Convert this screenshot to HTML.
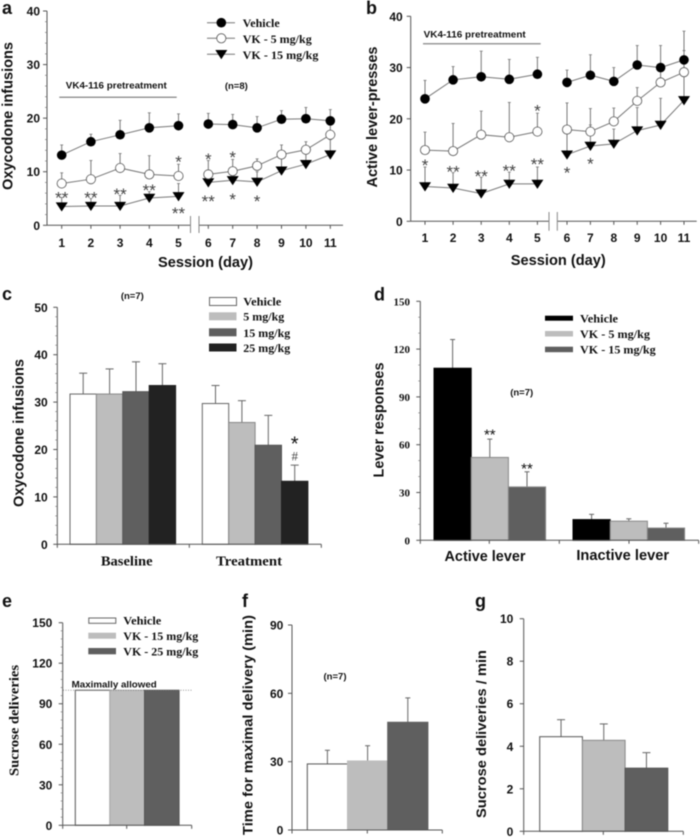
<!DOCTYPE html>
<html lang="en">
<head>
<meta charset="utf-8">
<title>VK4-116 oxycodone self-administration figure</title>
<style>
html,body{margin:0;padding:0;background:#fff;}
#figure{display:block;width:700px;height:837px;filter:blur(0.4px);}
text{fill:#111;}
.sans{font-family:"Liberation Sans",Arial,sans-serif;font-weight:bold;}
.serif{font-family:"Liberation Serif","Times New Roman",serif;font-weight:bold;}
.ser{fill:#111;font-size:12px;}
.note{font-size:9.5px;}
.panel{font-size:18px;}
</style>
</head>
<body>
<svg id="figure" xmlns="http://www.w3.org/2000/svg" width="700" height="837" viewBox="0 0 700 837">
  <rect x="0" y="0" width="700" height="837" fill="#fff"/>

  <!-- Panel letters -->
  <text class="sans panel" x="2" y="14">a</text>
  <text class="sans panel" x="366" y="14">b</text>
  <text class="sans panel" x="2" y="300">c</text>
  <text class="sans panel" x="374" y="300.5">d</text>
  <text class="sans panel" x="2" y="607">e</text>
  <text class="sans panel" x="242" y="607">f</text>
  <text class="sans panel" x="475" y="607">g</text>

  <!-- Axis titles -->
  <text class="sans" font-size="15" text-anchor="middle" textLength="148" lengthAdjust="spacingAndGlyphs" transform="translate(12.5,116) rotate(-90)">Oxycodone infusions</text>
  <text class="sans" font-size="15" text-anchor="middle" textLength="95" lengthAdjust="spacingAndGlyphs" x="205.5" y="267">Session (day)</text>
  <text class="sans" font-size="15" text-anchor="middle" textLength="141" lengthAdjust="spacingAndGlyphs" transform="translate(377,117) rotate(-90)">Active lever-presses</text>
  <text class="sans" font-size="15" text-anchor="middle" textLength="95" lengthAdjust="spacingAndGlyphs" x="558.3" y="265">Session (day)</text>
  <text class="sans" font-size="15" text-anchor="middle" textLength="148" lengthAdjust="spacingAndGlyphs" transform="translate(23.5,433) rotate(-90)">Oxycodone infusions</text>
  <text class="sans" font-size="15" text-anchor="middle" textLength="115" lengthAdjust="spacingAndGlyphs" transform="translate(383.3,420) rotate(-90)">Lever responses</text>
  <text class="serif" font-size="14" text-anchor="middle" textLength="111" lengthAdjust="spacingAndGlyphs" transform="translate(18.5,720.5) rotate(-90)">Sucrose deliveries</text>
  <text class="sans" font-size="14" text-anchor="middle" textLength="220" lengthAdjust="spacingAndGlyphs" transform="translate(252.5,725) rotate(-90)">Time for maximal delivery (min)</text>
  <text class="sans" font-size="14" text-anchor="middle" textLength="168" lengthAdjust="spacingAndGlyphs" transform="translate(486,734) rotate(-90)">Sucrose deliveries / min</text>

  <!-- Notes -->
  <line x1="59.3" y1="97.3" x2="176.7" y2="97.3" stroke="#666" stroke-width="1"/>
  <text class="sans" font-size="9.5" text-anchor="middle" textLength="101" lengthAdjust="spacingAndGlyphs" x="116.3" y="88.3">VK4-116 pretreatment</text>
  <text class="sans note" text-anchor="middle" x="236.3" y="89">(n=8)</text>
  <line x1="423" y1="43.7" x2="540.7" y2="43.7" stroke="#999" stroke-width="1.5"/>
  <text class="sans" font-size="9.5" text-anchor="middle" textLength="102" lengthAdjust="spacingAndGlyphs" x="474.7" y="37.7">VK4-116 pretreatment</text>
  <text class="sans note" text-anchor="middle" x="132.3" y="299">(n=7)</text>
  <text class="sans note" text-anchor="middle" x="521.7" y="395.7">(n=7)</text>
  <text class="sans" font-size="9" textLength="85" lengthAdjust="spacingAndGlyphs" x="71.7" y="687.3">Maximally allowed</text>
  <text class="sans note" text-anchor="middle" x="335" y="679.3">(n=7)</text>

  <!-- Legend a -->
  <g>
    <line x1="207" y1="22.7" x2="235" y2="22.7" stroke="#777"/>
    <circle cx="221.3" cy="22.7" r="4.8" fill="#000"/>
    <text class="serif" font-size="12" x="242.7" y="27" textLength="37" lengthAdjust="spacingAndGlyphs">Vehicle</text>
    <line x1="207" y1="38.3" x2="235" y2="38.3" stroke="#777"/>
    <circle cx="221.3" cy="38.3" r="4.6" fill="#fff" stroke="#555" stroke-width="0.8"/>
    <text class="serif" font-size="12" x="242.7" y="43" textLength="69" lengthAdjust="spacingAndGlyphs">VK - 5 mg/kg</text>
    <line x1="207" y1="54.3" x2="235" y2="54.3" stroke="#777"/>
    <polygon points="215.3,50 227.3,50 221.3,59.3" fill="#000"/>
    <text class="serif" font-size="12" x="242.7" y="59" textLength="75.7" lengthAdjust="spacingAndGlyphs">VK - 15 mg/kg</text>
  </g>

  <!-- Legend c -->
  <g>
    <rect x="209.5" y="297.5" width="27" height="8" fill="#fff" stroke="#666"/>
    <text class="serif" font-size="12" x="243.3" y="305.5" textLength="38" lengthAdjust="spacingAndGlyphs">Vehicle</text>
    <rect x="209" y="312.3" width="27.5" height="8" fill="#bdbdbd"/>
    <text class="serif" font-size="12" x="243.3" y="320.5" textLength="41" lengthAdjust="spacingAndGlyphs">5 mg/kg</text>
    <rect x="209" y="328.3" width="27.5" height="8" fill="#5f5f5f"/>
    <text class="serif" font-size="12" x="243.3" y="337" textLength="47" lengthAdjust="spacingAndGlyphs">15 mg/kg</text>
    <rect x="209" y="343.5" width="27.5" height="8" fill="#222"/>
    <text class="serif" font-size="12" x="243.3" y="352" textLength="47" lengthAdjust="spacingAndGlyphs">25 mg/kg</text>
  </g>

  <!-- Legend d -->
  <g>
    <rect x="545" y="315.7" width="28" height="5" fill="#000"/>
    <text class="serif" font-size="12" x="580" y="322.5" textLength="38" lengthAdjust="spacingAndGlyphs">Vehicle</text>
    <rect x="545" y="331" width="28" height="5.5" fill="#bdbdbd"/>
    <text class="serif" font-size="12" x="580" y="338" textLength="70" lengthAdjust="spacingAndGlyphs">VK - 5 mg/kg</text>
    <rect x="545" y="346.7" width="28" height="5.5" fill="#5f5f5f"/>
    <text class="serif" font-size="12" x="580" y="353.5" textLength="75.7" lengthAdjust="spacingAndGlyphs">VK - 15 mg/kg</text>
  </g>

  <!-- Legend e -->
  <g>
    <rect x="88.8" y="618" width="27" height="5.3" fill="#fff" stroke="#666"/>
    <text class="serif" font-size="12" x="123.3" y="624.5" textLength="38" lengthAdjust="spacingAndGlyphs">Vehicle</text>
    <rect x="88.3" y="632.7" width="27.7" height="6" fill="#bdbdbd"/>
    <text class="serif" font-size="12" x="123.3" y="640" textLength="75" lengthAdjust="spacingAndGlyphs">VK - 15 mg/kg</text>
    <rect x="88.3" y="648" width="27.7" height="6.3" fill="#5f5f5f"/>
    <text class="serif" font-size="12" x="123.3" y="655.5" textLength="75" lengthAdjust="spacingAndGlyphs">VK - 25 mg/kg</text>
  </g>

  <g id="plots"></g>
</svg>

<script>
/* ---------- Panel a data ---------- */
const sessions = [1, 2, 3, 4, 5, 6, 7, 8, 9, 10, 11];
const aYTicks = [0, 10, 20, 30, 40];
const aVehicle = [13.1, 15.6, 16.9, 18.2, 18.6, 18.9, 18.8, 18.2, 19.8, 19.9, 19.5];
const aVehicleErr = [1.9, 1.4, 2.7, 2.8, 2.2, 2.0, 1.9, 2.1, 1.6, 2.1, 2.1];
const aVk5 = [7.8, 8.6, 10.7, 9.5, 9.2, 9.5, 10.1, 11.1, 13.2, 14.1, 16.9];
const aVk5Err = [2.0, 3.5, 2.7, 3.5, 2.2, 2.6, 2.2, 1.3, 1.8, 1.5, 2.1];
const aVk15 = [3.5, 3.6, 3.6, 5.1, 5.4, 8.0, 8.4, 8.1, 10.2, 11.4, 13.2];
const aVk15Err = [1.7, 1.4, 2.0, 1.2, 2.4, 2.0, 1.6, 1.9, 2.3, 2.1, 2.8];
const aStarSessions = [1, 2, 3, 4, 5, 5, 6, 7, 6, 7, 8];
const aStarLevels = [5.9, 5.9, 6.6, 7.3, 3.0, 12.6, 13.1, 13.5, 5.3, 5.65, 5.3];
const aStarLabels = ['**', '**', '**', '**', '**', '*', '*', '*', '**', '*', '*'];

/* ---------- Panel b data ---------- */
const bYTicks = [0, 10, 20, 30, 40];
const bVehicle = [23.9, 27.6, 28.2, 27.7, 28.7, 27.1, 28.5, 27.3, 30.5, 30, 31.5];
const bVehicleErr = [3.6, 2.6, 5.0, 3.9, 3.3, 2.4, 4.0, 2.7, 3.8, 4.3, 5.6];
const bVk5 = [13.9, 13.7, 16.9, 16.4, 17.5, 17.9, 17.5, 19.5, 23.5, 27.1, 29.1];
const bVk5Err = [3.5, 5.4, 4.6, 6.8, 3.6, 5.2, 4.5, 2.6, 2.6, 2.9, 4.2];
const bVk15 = [6.8, 6.5, 5.4, 7.3, 7.3, 13, 14.7, 15.1, 17.7, 18.8, 23.6];
const bVk15Err = [3.8, 3.0, 3.2, 2.3, 3.3, 4.8, 4.1, 2.9, 4.5, 5.2, 5.4];
const bStarSessions = [1, 2, 3, 4, 5, 5, 6, 7];
const bStarLevels = [11.7, 10.5, 9.6, 10.65, 11.96, 22.4, 10.3, 12];
const bStarLabels = ['*', '**', '**', '**', '**', '*', '*', '*'];

/* ---------- Panel c data ---------- */
const cYTicks = [0, 10, 20, 30, 40, 50];
const cGroups = ['Baseline', 'Treatment'];
const cBaseline = [31.7, 31.7, 32.2, 33.5];
const cBaselineErr = [4.4, 5.3, 6.3, 4.6];
const cTreatment = [29.7, 25.7, 20.9, 13.3];
const cTreatmentErr = [3.8, 4.6, 6.3, 3.4];

/* ---------- Panel d data ---------- */
const dYTicks = [0, 30, 60, 90, 120, 150];
const dGroups = ['Active lever', 'Inactive lever'];
const dActive = [108, 52, 33.5];
const dActiveErr = [18, 11.5, 9.5];
const dInactive = [13, 12, 7.7];
const dInactiveErr = [3.3, 1.5, 3];
const dStarLevels = [68.8, 47.3];

/* ---------- Panel e data ---------- */
const eYTicks = [0, 30, 60, 90, 120, 150];
const eDeliveries = [100, 100, 100];
const eMaximum = 100;

/* ---------- Panel f data ---------- */
const fYTicks = [0, 30, 60, 90];
const fTimes = [29, 30.3, 47.3];
const fTimesErr = [6, 6.7, 10.7];

/* ---------- Panel g data ---------- */
const gYTicks = [0, 2, 4, 6, 8, 10];
const gRates = [4.45, 4.28, 2.97];
const gRatesErr = [0.8, 0.77, 0.73];

/* ---------- Helpers ---------- */
const SVG_NS = 'http://www.w3.org/2000/svg';
const plots = document.getElementById('plots');

function make(parent, tag, attrs, content) {
  const el = document.createElementNS(SVG_NS, tag);
  Object.keys(attrs).forEach(function (k) { el.setAttribute(k, attrs[k]); });
  if (content !== undefined) el.textContent = content;
  parent.appendChild(el);
  return el;
}

function linearY(y0, yTop, maxValue) {
  return function (v) { return y0 - (v / maxValue) * (y0 - yTop); };
}

/* Session axis: sessions 1-5 and 6-11 each have their own spacing around the axis break. */
function sessionX(x1, step1, x6, step2) {
  return function (day) { return day <= 5 ? x1 + (day - 1) * step1 : x6 + (day - 6) * step2; };
}

function drawYAxis(g, cfg, ticks) {
  const axis = make(g, 'line', { x1: cfg.x, y1: cfg.y(0), x2: cfg.x, y2: cfg.y(ticks[ticks.length - 1]), stroke: '#555', 'stroke-width': 1 });
  
  
  ticks.forEach(function (t, i) {
    const tick = make(g, 'line', { x1: cfg.x - 4, y1: cfg.y(t), x2: cfg.x, y2: cfg.y(t), stroke: '#555', 'stroke-width': 1 });
    
    
    const label = make(g, 'text', { x: cfg.labelX, y: cfg.y(t) + cfg.labelDy, 'text-anchor': 'end', 'font-size': cfg.labelSize, class: cfg.labelClass }, String(t));
    
    
    if (cfg.minor && i < ticks.length - 1) {
      for (let m = 1; m < cfg.minor; m++) {
        const v = t + (ticks[i + 1] - t) * m / cfg.minor;
        const mt = make(g, 'line', { x1: cfg.x - 2, y1: cfg.y(v), x2: cfg.x, y2: cfg.y(v), stroke: '#777', 'stroke-width': 0.7 });
        
        
      }
    }
  });
}

function drawXBase(g, y, segments, tickXs) {
  segments.forEach(function (s) {
    const line = make(g, 'line', { x1: s[0], y1: y, x2: s[1], y2: y, stroke: '#555', 'stroke-width': 1 });
    
    
  });
  tickXs.forEach(function (x) {
    const tick = make(g, 'line', { x1: x, y1: y, x2: x, y2: y + 3.5, stroke: '#555', 'stroke-width': 1 });
    
    
  });
}

function drawBreak(g, x1, x2, y1, y2) {
  [x1, x2].forEach(function (x) {
    const mark = make(g, 'line', { x1: x, y1: y1, x2: x, y2: y2, stroke: '#888', 'stroke-width': 1 });
    
    
  });
}

function drawSeries(g, X, Y, values, errs, kind, name) {
  /* error bars first, then connecting lines, then markers */
  values.forEach(function (v, i) {
    const bar = make(g, 'line', { x1: X(sessions[i]), y1: Y(v), x2: X(sessions[i]), y2: Y(v + errs[i]), stroke: '#777', 'stroke-width': 1 });
    
    
    const cap = make(g, 'line', { x1: X(sessions[i]) - 1.5, y1: Y(v + errs[i]), x2: X(sessions[i]) + 1.5, y2: Y(v + errs[i]), stroke: '#777', 'stroke-width': 0.8 });
    
    
  });
  [[0, 5], [5, 11]].forEach(function (range) {
    const pts = [];
    for (let i = range[0]; i < range[1]; i++) pts.push(X(sessions[i]).toFixed(1) + ',' + Y(values[i]).toFixed(1));
    const line = make(g, 'polyline', { points: pts.join(' '), fill: 'none', stroke: '#777', 'stroke-width': 1 });
    
    
  });
  values.forEach(function (v, i) {
    const cx = X(sessions[i]);
    const cy = Y(v);
    let mark;
    if (kind === 'filled') {
      mark = make(g, 'circle', { cx: cx, cy: cy, r: 4.8, fill: '#000' });
    } else if (kind === 'open') {
      mark = make(g, 'circle', { cx: cx, cy: cy, r: 4.6, fill: '#fff', stroke: '#555', 'stroke-width': 0.8 });
    } else {
      mark = make(g, 'polygon', { points: (cx - 6) + ',' + (cy - 4.2) + ' ' + (cx + 6) + ',' + (cy - 4.2) + ' ' + cx + ',' + (cy + 5), fill: '#000' });
    }
    
    
  });
}

function drawStars(g, xs, ys, labels, size, color) {
  labels.forEach(function (label, i) {
    const star = make(g, 'text', { x: xs[i], y: ys[i] + size * 0.58, 'text-anchor': 'middle', 'font-size': size, 'font-family': '"Liberation Sans",Arial,sans-serif', style: 'fill:' + color }, label);
    
    
  });
}

function drawBar(g, left, width, y0, yVal, fill, stroke, name) {
  const bar = make(g, 'rect', { x: left, y: yVal, width: width, height: y0 - yVal, fill: fill, stroke: stroke, 'stroke-width': 1 });
  
  
}

function drawErr(g, x, yVal, yTop, capHalf, name) {
  const stem = make(g, 'line', { x1: x, y1: yVal, x2: x, y2: yTop, stroke: '#666', 'stroke-width': 1 });
  
  
  const cap = make(g, 'line', { x1: x - capHalf, y1: yTop, x2: x + capHalf, y2: yTop, stroke: '#666', 'stroke-width': 1 });
  
  
}

function panelGroup(name) {
  const g = make(plots, 'g', {});
  
  
  return g;
}

function drawSessionLabels(g, X, y) {
  sessions.forEach(function (d) {
    const t = make(g, 'text', { x: X(d), y: y, 'text-anchor': 'middle', 'font-size': 12, class: 'sans' }, String(d));
    
    
  });
}

/* ---------- Panel a ---------- */
(function () {
  const g = panelGroup('panel-a-line-chart');
  const Y = linearY(225.3, 11, 40);
  const X = sessionX(61.7, 29.2, 208.3, 24.4);
  drawYAxis(g, { x: 47, y: Y, labelX: 40, labelDy: 4.5, labelSize: 12, labelClass: 'sans', minor: 5 }, aYTicks);
  drawXBase(g, 225.3, [[47, 190.5], [199, 343]], sessions.map(X));
  drawBreak(g, 190.5, 199, 216, 233);
  drawSessionLabels(g, X, 247);
  drawSeries(g, X, Y, aVk15, aVk15Err, 'triangle', 'vk15');
  drawSeries(g, X, Y, aVk5, aVk5Err, 'open', 'vk5');
  drawSeries(g, X, Y, aVehicle, aVehicleErr, 'filled', 'vehicle');
  drawStars(g, aStarSessions.map(X), aStarLevels.map(Y), aStarLabels, 17, '#444');
})();

/* ---------- Panel b ---------- */
(function () {
  const g = panelGroup('panel-b-line-chart');
  const Y = linearY(221.3, 16.3, 40);
  const X = sessionX(425, 28.1, 567, 23.4);
  drawYAxis(g, { x: 410.7, y: Y, labelX: 402.7, labelDy: 4.5, labelSize: 12, labelClass: 'sans', minor: 0 }, bYTicks);
  drawXBase(g, 221.3, [[410.7, 549], [557.3, 696.7]], sessions.map(X));
  drawBreak(g, 549, 557.3, 212, 230.7);
  drawSessionLabels(g, X, 242);
  drawSeries(g, X, Y, bVk15, bVk15Err, 'triangle', 'vk15');
  drawSeries(g, X, Y, bVk5, bVk5Err, 'open', 'vk5');
  drawSeries(g, X, Y, bVehicle, bVehicleErr, 'filled', 'vehicle');
  drawStars(g, bStarSessions.map(X), bStarLevels.map(Y), bStarLabels, 17, '#444');
})();

/* ---------- Panel c ---------- */
(function () {
  const g = panelGroup('panel-c-bar-chart');
  const y0 = 544.3;
  const Y = linearY(y0, 307.3, 50);
  const barW = 26.4;
  const groupX = function (gi, i) { return (gi === 0 ? 70 : 202.3) + i * barW; };
  const fills = ['#fff', '#bdbdbd', '#5f5f5f', '#222'];
  const strokes = ['#666', '#888', '#555', '#222'];
  [cBaseline, cTreatment].forEach(function (vals, gi) {
    const errs = gi === 0 ? cBaselineErr : cTreatmentErr;
    vals.forEach(function (v, i) {
      drawErr(g, groupX(gi, i) + barW / 2, Y(v), Y(v + errs[i]), 4, 'c');
    });
    vals.forEach(function (v, i) {
      drawBar(g, groupX(gi, i), barW, y0, Y(v), fills[i], strokes[i], 'c-' + cGroups[gi].toLowerCase());
    });
    const lbl = make(g, 'text', { x: gi === 0 ? 126.7 : 249, y: 565.7, 'text-anchor': 'middle', 'font-size': 14, class: 'serif', textLength: gi === 0 ? 51.7 : 66, lengthAdjust: 'spacingAndGlyphs' }, cGroups[gi]);
    
    
  });
  drawYAxis(g, { x: 57.3, y: Y, labelX: 47.7, labelDy: 4.5, labelSize: 12, labelClass: 'sans', minor: 5 }, cYTicks);
  drawXBase(g, y0, [[57.3, 321.3]], [57.3, 189.3, 321.3]);
  const topX = groupX(1, 3) + barW / 2;
  const topY = Y(cTreatment[3] + cTreatmentErr[3]);
  drawStars(g, [topX], [topY - 26], ['*'], 20, '#111');
  const hash = make(g, 'text', { x: topX, y: topY - 4.5, 'text-anchor': 'middle', 'font-size': 13, 'font-family': '"Liberation Serif",serif', style: 'fill:#444' }, '#');
  
  
})();

/* ---------- Panel d ---------- */
(function () {
  const g = panelGroup('panel-d-bar-chart');
  const y0 = 540.3;
  const Y = linearY(y0, 301.3, 150);
  const barW = 37.2;
  const groupX = function (gi, i) { return (gi === 0 ? 434 : 573) + i * barW; };
  const fills = ['#000', '#bdbdbd', '#5f5f5f'];
  [dActive, dInactive].forEach(function (vals, gi) {
    const errs = gi === 0 ? dActiveErr : dInactiveErr;
    vals.forEach(function (v, i) {
      drawErr(g, groupX(gi, i) + barW / 2, Y(v), Y(v + errs[i]), 2.5, 'd');
      drawBar(g, groupX(gi, i), barW, y0, Y(v), fills[i], fills[i] === '#000' ? '#000' : '#888', 'd-' + (gi === 0 ? 'active' : 'inactive'));
    });
    const lbl = make(g, 'text', { x: gi === 0 ? 485 : 622.7, y: gi === 0 ? 561 : 560, 'text-anchor': 'middle', 'font-size': 15, class: 'sans', textLength: gi === 0 ? 81 : 92.7, lengthAdjust: 'spacingAndGlyphs' }, dGroups[gi]);
    
    
  });
  drawYAxis(g, { x: 420.3, y: Y, labelX: 410, labelDy: 4, labelSize: 11, labelClass: 'serif', minor: 3 }, dYTicks);
  drawXBase(g, y0, [[420.3, 698.7]], [420.3, 489.3, 559.3, 629, 698.7]);
  drawStars(g, [groupX(0, 1) + barW / 2, groupX(0, 2) + barW / 2], dStarLevels.map(Y), ['**', '**'], 15, '#111');
})();

/* ---------- Panel e ---------- */
(function () {
  const g = panelGroup('panel-e-bar-chart');
  const y0 = 825.3;
  const Y = linearY(y0, 622.7, 150);
  const barW = 34.6;
  const fills = ['#fff', '#bdbdbd', '#5f5f5f'];
  const strokes = ['#555', '#aaa', '#555'];
  eDeliveries.forEach(function (v, i) {
    drawBar(g, 75.3 + i * barW, barW, y0, Y(v), fills[i], strokes[i], 'e');
  });
  const dots = make(g, 'line', { x1: 63, y1: Y(eMaximum), x2: 193, y2: Y(eMaximum), stroke: '#777', 'stroke-width': 0.8, 'stroke-dasharray': '1 1.5' });
  
  
  drawYAxis(g, { x: 62.7, y: Y, labelX: 52.3, labelDy: 4.5, labelSize: 12, labelClass: 'sans', minor: 5 }, eYTicks);
  drawXBase(g, y0, [[62.7, 191.7]], [62.7, 126.7, 191.7]);
})();

/* ---------- Panel f ---------- */
(function () {
  const g = panelGroup('panel-f-bar-chart');
  const y0 = 830;
  const Y = linearY(y0, 625, 90);
  const barW = 40.2;
  const fills = ['#fff', '#bdbdbd', '#5f5f5f'];
  const strokes = ['#555', '#bdbdbd', '#5f5f5f'];
  fTimes.forEach(function (v, i) {
    drawErr(g, 307.3 + i * barW + barW / 2, Y(v), Y(v + fTimesErr[i]), 2.5, 'f');
    drawBar(g, 307.3 + i * barW, barW, y0, Y(v), fills[i], strokes[i], 'f');
  });
  drawYAxis(g, { x: 292, y: Y, labelX: 283.3, labelDy: 4.5, labelSize: 12, labelClass: 'sans', minor: 0 }, fYTicks);
  drawXBase(g, y0, [[292, 442.3]], [292, 367.3, 442.3]);
})();

/* ---------- Panel g ---------- */
(function () {
  const g = panelGroup('panel-g-bar-chart');
  const y0 = 831.3;
  const Y = linearY(y0, 618.7, 10);
  const barW = 42.7;
  const fills = ['#fff', '#bdbdbd', '#5f5f5f'];
  const strokes = ['#555', '#888', '#555'];
  gRates.forEach(function (v, i) {
    drawErr(g, 539.7 + i * barW + barW / 2, Y(v), Y(v + gRatesErr[i]), 4, 'g');
    drawBar(g, 539.7 + i * barW, barW, y0, Y(v), fills[i], strokes[i], 'g');
  });
  drawYAxis(g, { x: 523.7, y: Y, labelX: 513.3, labelDy: 4.5, labelSize: 12, labelClass: 'sans', minor: 0 }, gYTicks);
  drawXBase(g, y0, [[523.7, 683.3]], [523.7, 603.3, 683.3]);
})();
</script>
</body>
</html>
